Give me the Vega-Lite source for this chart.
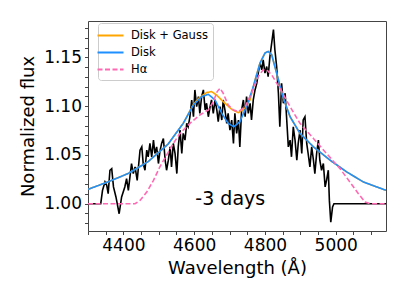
{
  "$schema": "https://vega.github.io/schema/vega-lite/v6.json",
  "width": 298,
  "height": 210,
  "autosize": "none",
  "padding": {"left": 88, "top": 21, "right": 21, "bottom": 74},
  "config": {
    "font": "DejaVu Sans",
    "view": {"stroke": "#444", "strokeWidth": 1},
    "axis": {
      "domain": false,
      "grid": false,
      "tickColor": "#444",
      "tickSize": 3.5,
      "labelColor": "#000",
      "labelFontSize": 17,
      "labelFont": "DejaVu Sans",
      "titleFont": "DejaVu Sans",
      "titleFontSize": 18,
      "titleFontWeight": "normal",
      "titleColor": "#000",
      "labelOverlap": false,
      "labelPadding": 3
    },
    "legend": {
      "labelFont": "DejaVu Sans",
      "labelFontSize": 11.5,
      "labelColor": "#000"
    }
  },
  "datasets": {
    "spec": [
      {"wavelength": 4300, "flux": 1.0},
      {"wavelength": 4336, "flux": 1.0},
      {"wavelength": 4341, "flux": 1.0137},
      {"wavelength": 4348, "flux": 1.0223},
      {"wavelength": 4353, "flux": 1.0189},
      {"wavelength": 4357, "flux": 1.0103},
      {"wavelength": 4362, "flux": 1.0343},
      {"wavelength": 4367, "flux": 1.036},
      {"wavelength": 4372, "flux": 1.0172},
      {"wavelength": 4379, "flux": 1.0069},
      {"wavelength": 4388, "flux": 0.9897},
      {"wavelength": 4395, "flux": 1.0069},
      {"wavelength": 4404, "flux": 1.0172},
      {"wavelength": 4409, "flux": 1.0257},
      {"wavelength": 4414, "flux": 1.0137},
      {"wavelength": 4423, "flux": 1.0412},
      {"wavelength": 4428, "flux": 1.0309},
      {"wavelength": 4433, "flux": 1.0378},
      {"wavelength": 4439, "flux": 1.024},
      {"wavelength": 4447, "flux": 1.0549},
      {"wavelength": 4452, "flux": 1.0583},
      {"wavelength": 4456, "flux": 1.0412},
      {"wavelength": 4461, "flux": 1.0343},
      {"wavelength": 4466, "flux": 1.0549},
      {"wavelength": 4470, "flux": 1.0481},
      {"wavelength": 4475, "flux": 1.0618},
      {"wavelength": 4480, "flux": 1.0481},
      {"wavelength": 4485, "flux": 1.0652},
      {"wavelength": 4489, "flux": 1.0515},
      {"wavelength": 4494, "flux": 1.0583},
      {"wavelength": 4499, "flux": 1.0412},
      {"wavelength": 4503, "flux": 1.0532},
      {"wavelength": 4508, "flux": 1.0618},
      {"wavelength": 4513, "flux": 1.0669},
      {"wavelength": 4518, "flux": 1.0446},
      {"wavelength": 4522, "flux": 1.0343},
      {"wavelength": 4527, "flux": 1.0446},
      {"wavelength": 4532, "flux": 1.0583},
      {"wavelength": 4536, "flux": 1.0378},
      {"wavelength": 4541, "flux": 1.0618},
      {"wavelength": 4546, "flux": 1.0515},
      {"wavelength": 4551, "flux": 1.0309},
      {"wavelength": 4555, "flux": 1.0583},
      {"wavelength": 4560, "flux": 1.0755},
      {"wavelength": 4565, "flux": 1.0515},
      {"wavelength": 4569, "flux": 1.0721},
      {"wavelength": 4574, "flux": 1.0652},
      {"wavelength": 4579, "flux": 1.0824},
      {"wavelength": 4583, "flux": 1.0789},
      {"wavelength": 4588, "flux": 1.0892},
      {"wavelength": 4593, "flux": 1.1064},
      {"wavelength": 4598, "flux": 1.0892},
      {"wavelength": 4602, "flux": 1.1167},
      {"wavelength": 4607, "flux": 1.0995},
      {"wavelength": 4612, "flux": 1.1098},
      {"wavelength": 4616, "flux": 1.0927},
      {"wavelength": 4621, "flux": 1.1098},
      {"wavelength": 4626, "flux": 1.1167},
      {"wavelength": 4631, "flux": 1.0961},
      {"wavelength": 4635, "flux": 1.103},
      {"wavelength": 4640, "flux": 1.0892},
      {"wavelength": 4645, "flux": 1.0995},
      {"wavelength": 4649, "flux": 1.1064},
      {"wavelength": 4654, "flux": 1.0927},
      {"wavelength": 4659, "flux": 1.1064},
      {"wavelength": 4664, "flux": 1.0961},
      {"wavelength": 4668, "flux": 1.0841},
      {"wavelength": 4673, "flux": 1.0995},
      {"wavelength": 4678, "flux": 1.0858},
      {"wavelength": 4682, "flux": 1.1064},
      {"wavelength": 4687, "flux": 1.0961},
      {"wavelength": 4692, "flux": 1.0824},
      {"wavelength": 4696, "flux": 1.0927},
      {"wavelength": 4701, "flux": 1.0755},
      {"wavelength": 4706, "flux": 1.0858},
      {"wavelength": 4711, "flux": 1.0618},
      {"wavelength": 4715, "flux": 1.0927},
      {"wavelength": 4720, "flux": 1.0721},
      {"wavelength": 4725, "flux": 1.0858},
      {"wavelength": 4729, "flux": 1.0583},
      {"wavelength": 4734, "flux": 1.0961},
      {"wavelength": 4739, "flux": 1.1064},
      {"wavelength": 4744, "flux": 1.0892},
      {"wavelength": 4748, "flux": 1.1098},
      {"wavelength": 4753, "flux": 1.0927},
      {"wavelength": 4758, "flux": 1.103},
      {"wavelength": 4762, "flux": 1.0858},
      {"wavelength": 4767, "flux": 1.1064},
      {"wavelength": 4772, "flux": 1.1167},
      {"wavelength": 4777, "flux": 1.1236},
      {"wavelength": 4781, "flux": 1.1339},
      {"wavelength": 4786, "flux": 1.1442},
      {"wavelength": 4791, "flux": 1.1373},
      {"wavelength": 4795, "flux": 1.1476},
      {"wavelength": 4800, "flux": 1.1339},
      {"wavelength": 4805, "flux": 1.1407},
      {"wavelength": 4809, "flux": 1.1304},
      {"wavelength": 4814, "flux": 1.151},
      {"wavelength": 4819, "flux": 1.1648},
      {"wavelength": 4824, "flux": 1.1785},
      {"wavelength": 4828, "flux": 1.1579},
      {"wavelength": 4833, "flux": 1.1407},
      {"wavelength": 4838, "flux": 1.1133},
      {"wavelength": 4842, "flux": 1.0789},
      {"wavelength": 4847, "flux": 1.1236},
      {"wavelength": 4852, "flux": 1.103},
      {"wavelength": 4857, "flux": 1.1133},
      {"wavelength": 4861, "flux": 1.0892},
      {"wavelength": 4866, "flux": 1.0583},
      {"wavelength": 4871, "flux": 1.0652},
      {"wavelength": 4875, "flux": 1.0481},
      {"wavelength": 4880, "flux": 1.0789},
      {"wavelength": 4885, "flux": 1.0652},
      {"wavelength": 4890, "flux": 1.0446},
      {"wavelength": 4894, "flux": 1.0618},
      {"wavelength": 4899, "flux": 1.0755},
      {"wavelength": 4904, "flux": 1.0515},
      {"wavelength": 4908, "flux": 1.0858},
      {"wavelength": 4913, "flux": 1.0892},
      {"wavelength": 4918, "flux": 1.0618},
      {"wavelength": 4922, "flux": 1.0515},
      {"wavelength": 4927, "flux": 1.0378},
      {"wavelength": 4932, "flux": 1.0583},
      {"wavelength": 4937, "flux": 1.0446},
      {"wavelength": 4941, "flux": 1.0309},
      {"wavelength": 4946, "flux": 1.0515},
      {"wavelength": 4951, "flux": 1.0652},
      {"wavelength": 4955, "flux": 1.0446},
      {"wavelength": 4960, "flux": 1.0343},
      {"wavelength": 4965, "flux": 1.0412},
      {"wavelength": 4970, "flux": 1.0172},
      {"wavelength": 4974, "flux": 1.024},
      {"wavelength": 4979, "flux": 1.0343},
      {"wavelength": 4982, "flux": 1.0034},
      {"wavelength": 4986, "flux": 0.9811},
      {"wavelength": 4991, "flux": 0.9966},
      {"wavelength": 4995, "flux": 1.0},
      {"wavelength": 5142, "flux": 1.0}
    ],
    "models": [
      {"series": "Disk + Gauss", "wavelength": 4300, "flux": 1.0147},
      {"series": "Disk + Gauss", "wavelength": 4356, "flux": 1.0223},
      {"series": "Disk + Gauss", "wavelength": 4413, "flux": 1.0309},
      {"series": "Disk + Gauss", "wavelength": 4469, "flux": 1.0429},
      {"series": "Disk + Gauss", "wavelength": 4526, "flux": 1.061},
      {"series": "Disk + Gauss", "wavelength": 4569, "flux": 1.0824},
      {"series": "Disk + Gauss", "wavelength": 4598, "flux": 1.102},
      {"series": "Disk + Gauss", "wavelength": 4616, "flux": 1.1091},
      {"series": "Disk + Gauss", "wavelength": 4635, "flux": 1.114},
      {"series": "Disk + Gauss", "wavelength": 4649, "flux": 1.115},
      {"series": "Disk + Gauss", "wavelength": 4663, "flux": 1.1116},
      {"series": "Disk + Gauss", "wavelength": 4682, "flux": 1.1047},
      {"series": "Disk + Gauss", "wavelength": 4706, "flux": 1.0968},
      {"series": "Disk + Gauss", "wavelength": 4725, "flux": 1.0934},
      {"series": "Disk + Gauss", "wavelength": 4743, "flux": 1.0978},
      {"series": "Disk + Gauss", "wavelength": 4758, "flux": 1.1064},
      {"series": "Disk + Gauss", "wavelength": 4772, "flux": 1.127},
      {"series": "Disk + Gauss", "wavelength": 4786, "flux": 1.1442},
      {"series": "Disk + Gauss", "wavelength": 4800, "flux": 1.1545},
      {"series": "Disk + Gauss", "wavelength": 4809, "flux": 1.1562},
      {"series": "Disk + Gauss", "wavelength": 4819, "flux": 1.1528},
      {"series": "Disk + Gauss", "wavelength": 4833, "flux": 1.1339},
      {"series": "Disk + Gauss", "wavelength": 4852, "flux": 1.1081},
      {"series": "Disk + Gauss", "wavelength": 4871, "flux": 1.0892},
      {"series": "Disk + Gauss", "wavelength": 4899, "flux": 1.0721},
      {"series": "Disk + Gauss", "wavelength": 4937, "flux": 1.0583},
      {"series": "Disk + Gauss", "wavelength": 4984, "flux": 1.0446},
      {"series": "Disk + Gauss", "wavelength": 5031, "flux": 1.0326},
      {"series": "Disk + Gauss", "wavelength": 5078, "flux": 1.0223},
      {"series": "Disk + Gauss", "wavelength": 5142, "flux": 1.0137},
      {"series": "Disk", "wavelength": 4300, "flux": 1.0147},
      {"series": "Disk", "wavelength": 4356, "flux": 1.0223},
      {"series": "Disk", "wavelength": 4413, "flux": 1.0309},
      {"series": "Disk", "wavelength": 4469, "flux": 1.0429},
      {"series": "Disk", "wavelength": 4526, "flux": 1.061},
      {"series": "Disk", "wavelength": 4569, "flux": 1.0824},
      {"series": "Disk", "wavelength": 4598, "flux": 1.1013},
      {"series": "Disk", "wavelength": 4621, "flux": 1.1098},
      {"series": "Disk", "wavelength": 4640, "flux": 1.1122},
      {"series": "Disk", "wavelength": 4659, "flux": 1.1064},
      {"series": "Disk", "wavelength": 4678, "flux": 1.0927},
      {"series": "Disk", "wavelength": 4696, "flux": 1.0824},
      {"series": "Disk", "wavelength": 4712, "flux": 1.0789},
      {"series": "Disk", "wavelength": 4729, "flux": 1.0841},
      {"series": "Disk", "wavelength": 4748, "flux": 1.0995},
      {"series": "Disk", "wavelength": 4767, "flux": 1.1201},
      {"series": "Disk", "wavelength": 4786, "flux": 1.1442},
      {"series": "Disk", "wavelength": 4800, "flux": 1.1545},
      {"series": "Disk", "wavelength": 4809, "flux": 1.1562},
      {"series": "Disk", "wavelength": 4819, "flux": 1.1528},
      {"series": "Disk", "wavelength": 4833, "flux": 1.1339},
      {"series": "Disk", "wavelength": 4852, "flux": 1.1081},
      {"series": "Disk", "wavelength": 4871, "flux": 1.0892},
      {"series": "Disk", "wavelength": 4899, "flux": 1.0721},
      {"series": "Disk", "wavelength": 4937, "flux": 1.0583},
      {"series": "Disk", "wavelength": 4984, "flux": 1.0446},
      {"series": "Disk", "wavelength": 5031, "flux": 1.0326},
      {"series": "Disk", "wavelength": 5078, "flux": 1.0223},
      {"series": "Disk", "wavelength": 5142, "flux": 1.0137},
      {"series": "Hα", "wavelength": 4300, "flux": 1.0},
      {"series": "Hα", "wavelength": 4433, "flux": 1.0},
      {"series": "Hα", "wavelength": 4447, "flux": 1.0034},
      {"series": "Hα", "wavelength": 4466, "flux": 1.012},
      {"series": "Hα", "wavelength": 4485, "flux": 1.024},
      {"series": "Hα", "wavelength": 4503, "flux": 1.0378},
      {"series": "Hα", "wavelength": 4522, "flux": 1.0498},
      {"series": "Hα", "wavelength": 4541, "flux": 1.0618},
      {"series": "Hα", "wavelength": 4560, "flux": 1.0721},
      {"series": "Hα", "wavelength": 4588, "flux": 1.0824},
      {"series": "Hα", "wavelength": 4616, "flux": 1.091},
      {"series": "Hα", "wavelength": 4640, "flux": 1.0961},
      {"series": "Hα", "wavelength": 4654, "flux": 1.1047},
      {"series": "Hα", "wavelength": 4665, "flux": 1.115},
      {"series": "Hα", "wavelength": 4673, "flux": 1.1184},
      {"series": "Hα", "wavelength": 4682, "flux": 1.1133},
      {"series": "Hα", "wavelength": 4696, "flux": 1.1013},
      {"series": "Hα", "wavelength": 4711, "flux": 1.0961},
      {"series": "Hα", "wavelength": 4725, "flux": 1.0944},
      {"series": "Hα", "wavelength": 4744, "flux": 1.0995},
      {"series": "Hα", "wavelength": 4762, "flux": 1.1133},
      {"series": "Hα", "wavelength": 4781, "flux": 1.1304},
      {"series": "Hα", "wavelength": 4795, "flux": 1.1373},
      {"series": "Hα", "wavelength": 4805, "flux": 1.1373},
      {"series": "Hα", "wavelength": 4819, "flux": 1.1322},
      {"series": "Hα", "wavelength": 4842, "flux": 1.1184},
      {"series": "Hα", "wavelength": 4871, "flux": 1.0995},
      {"series": "Hα", "wavelength": 4899, "flux": 1.0824},
      {"series": "Hα", "wavelength": 4937, "flux": 1.0669},
      {"series": "Hα", "wavelength": 4974, "flux": 1.0515},
      {"series": "Hα", "wavelength": 5012, "flux": 1.036},
      {"series": "Hα", "wavelength": 5040, "flux": 1.0223},
      {"series": "Hα", "wavelength": 5064, "flux": 1.0103},
      {"series": "Hα", "wavelength": 5083, "flux": 1.0017},
      {"series": "Hα", "wavelength": 5097, "flux": 1.0},
      {"series": "Hα", "wavelength": 5142, "flux": 1.0}
    ],
    "label": [
      {"wavelength": 4702, "flux": 0.999, "text": "-3 days"}
    ]
  },
  "encoding": {
    "x": {
      "field": "wavelength",
      "type": "quantitative",
      "scale": {"domain": [4300, 5142], "nice": false, "zero": false},
      "axis": {
        "title": "Wavelength (Å)",
        "values": [4300, 4350, 4400, 4450, 4500, 4550, 4600, 4650, 4700, 4750, 4800, 4850, 4900, 4950, 5000, 5050, 5100],
        "labelExpr": "datum.value % 200 == 0 ? format(datum.value, 'd') : ''",
        "titlePadding": 6
      }
    },
    "y": {
      "field": "flux",
      "type": "quantitative",
      "scale": {"domain": [0.972, 1.1874], "nice": false, "zero": false},
      "axis": {
        "title": "Normalized flux",
        "values": [0.98, 0.99, 1.0, 1.01, 1.02, 1.03, 1.04, 1.05, 1.06, 1.07, 1.08, 1.09, 1.1, 1.11, 1.12, 1.13, 1.14, 1.15, 1.16, 1.17, 1.18],
        "labelExpr": "round(datum.value * 100) % 5 == 0 ? format(datum.value, '.2f') : ''",
        "titlePadding": 6
      }
    }
  },
  "layer": [
    {
      "data": {"name": "spec"},
      "mark": {"type": "line", "color": "#000", "strokeWidth": 1.6, "clip": true}
    },
    {
      "data": {"name": "models"},
      "mark": {"type": "line", "strokeWidth": 1.6, "clip": true},
      "encoding": {
        "color": {
          "field": "series",
          "type": "nominal",
          "scale": {"domain": ["Disk + Gauss", "Disk", "Hα"], "range": ["#FFA500", "#1E90FF", "#FF69B4"]},
          "legend": {
            "title": null,
            "orient": "none",
            "legendX": 10,
            "legendY": 2,
            "symbolType": "M-2,0H2",
            "symbolSize": 169,
            "symbolStrokeWidth": 2,
            "labelOffset": 13,
            "rowPadding": 4,
            "padding": 5,
            "strokeColor": "#ccc",
            "fillColor": "rgba(255,255,255,0.85)",
            "cornerRadius": 3
          }
        },
        "strokeDash": {
          "field": "series",
          "type": "nominal",
          "scale": {"domain": ["Disk + Gauss", "Disk", "Hα"], "range": [[1, 0], [1, 0], [5, 2.5]]},
          "legend": {
            "title": null,
            "orient": "none",
            "legendX": 10,
            "legendY": 2,
            "symbolType": "M-2,0H2",
            "symbolSize": 169,
            "symbolStrokeWidth": 2,
            "labelOffset": 13,
            "rowPadding": 4,
            "padding": 5,
            "strokeColor": "#ccc",
            "fillColor": "rgba(255,255,255,0.85)",
            "cornerRadius": 3
          }
        }
      }
    },
    {
      "data": {"name": "label"},
      "mark": {"type": "text", "fontSize": 19, "font": "DejaVu Sans", "align": "center", "baseline": "alphabetic", "color": "#000"},
      "encoding": {"text": {"field": "text"}}
    }
  ]
}
